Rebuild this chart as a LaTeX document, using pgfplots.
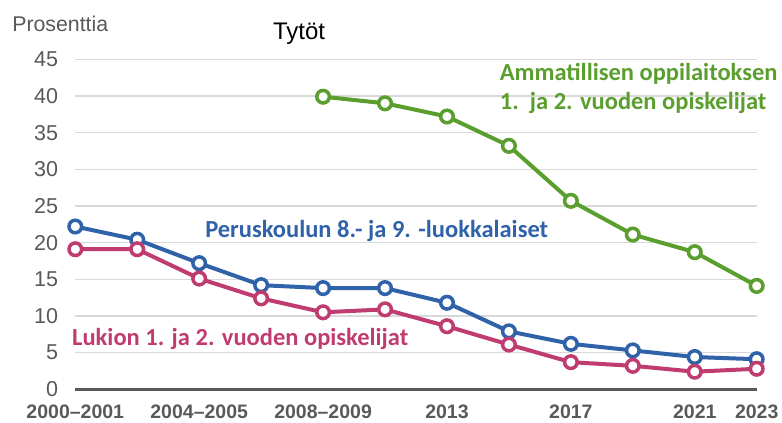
\documentclass[border=0pt]{standalone}
\usepackage{pgfplots}
\pgfplotsset{compat=1.18}
\usepackage{fontspec}
\setmainfont{Liberation Sans}
\newfontfamily\calfont{Carlito}
\definecolor{cblue}{HTML}{2F62A9}
\definecolor{cpink}{HTML}{C03C70}
\definecolor{cgreen}{HTML}{5A9E2E}
\definecolor{tgray}{HTML}{595959}
\definecolor{ggray}{HTML}{D9D9D9}
\begin{document}
\begin{tikzpicture}
\path[use as bounding box] (0,0) rectangle (782bp,423bp);
\begin{axis}[
  at={(75.3bp,33.7bp)}, anchor=south west,
  scale only axis, width=681.4bp, height=330bp,
  xmin=0, xmax=11, ymin=0, ymax=45,
  clip=false,
  axis line style={draw=none},
  major tick length=0pt,
  ytick={0,5,...,45},
  ymajorgrids, grid style={color=ggray, line width=1.5bp},
  extra y ticks={0}, extra y tick labels={},
  extra y tick style={grid style={color=tgray, line width=3bp}},
  xtick={0,2,4,6,8,10,11},
  xticklabels={2000--2001,2004--2005,2008--2009,2013,2017,2021,2023},
  /pgf/number format/assume math mode=true,
  yticklabel style={font=\fontsize{21.5bp}{25bp}\selectfont, color=tgray, inner sep=0pt, xshift=-17bp},
  xticklabel style={font=\fontsize{19.5bp}{23bp}\selectfont\bfseries, color=tgray, inner sep=0pt, yshift=-15bp},
  every axis plot/.append style={line width=4bp, mark=*, mark size=6.3bp,
     mark options={fill=white, line width=3.5bp}},
]
\addplot[color=cblue] coordinates {(0,22.2)(1,20.4)(2,17.2)(3,14.2)(4,13.8)(5,13.8)(6,11.8)(7,7.9)(8,6.2)(9,5.3)(10,4.4)(11,4.1)};
\addplot[color=cpink] coordinates {(0,19.1)(1,19.1)(2,15.1)(3,12.4)(4,10.5)(5,10.9)(6,8.6)(7,6.1)(8,3.7)(9,3.2)(10,2.4)(11,2.8)};
\addplot[color=cgreen] coordinates {(4,39.9)(5,39.0)(6,37.2)(7,33.2)(8,25.7)(9,21.1)(10,18.7)(11,14.1)};
\node[anchor=base west, inner sep=0pt, color=cblue, font=\calfont\bfseries\fontsize{24.5bp}{28bp}\selectfont] at (axis cs:2.095,20.7) {Peruskoulun 8.- ja 9. -luokkalaiset};
\node[anchor=base west, inner sep=0pt, color=cpink, font=\calfont\bfseries\fontsize{24.5bp}{28bp}\selectfont] at (axis cs:-0.053,5.95) {Lukion 1. ja 2. vuoden opiskelijat};
\node[anchor=base west, inner sep=0pt, color=cgreen, font=\calfont\bfseries\fontsize{24.5bp}{28bp}\selectfont] at (axis cs:6.85,42.1) {Ammatillisen oppilaitoksen};
\node[anchor=base west, inner sep=0pt, color=cgreen, font=\calfont\bfseries\fontsize{24.5bp}{28bp}\selectfont] at (axis cs:6.85,38.1) {1.\ \ ja 2. vuoden opiskelijat};
\node[anchor=base west, inner sep=0pt, font=\fontsize{24bp}{28bp}\selectfont] at (axis cs:3.19,47.7) {Tytöt};
\node[anchor=base west, inner sep=0pt, color=tgray, font=\fontsize{21.3bp}{25bp}\selectfont] at (axis cs:-1.02,48.8) {Prosenttia};
\end{axis}
\end{tikzpicture}
\end{document}
